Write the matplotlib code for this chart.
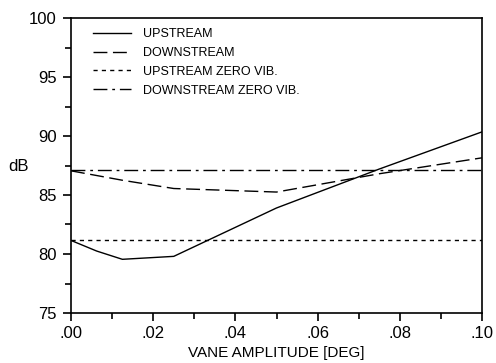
import matplotlib
matplotlib.use("Agg")
import matplotlib.pyplot as plt
from matplotlib.ticker import MultipleLocator, FuncFormatter

plt.rcParams['font.family'] = ['Liberation Sans', 'DejaVu Sans']

amp = [0.0, 0.00625, 0.0125, 0.025, 0.05, 0.075, 0.1]
upstream = [81.15, 80.25, 79.55, 79.8, 83.9, 87.2, 90.35]
amp_down = [0.0, 0.0125, 0.025, 0.05, 0.075, 0.1]
downstream = [87.05, 86.25, 85.55, 85.25, 86.8, 88.15]
up_zero = 81.2
down_zero = 87.1
labels = ['UPSTREAM', 'DOWNSTREAM', 'UPSTREAM ZERO VIB.', 'DOWNSTREAM ZERO VIB.']

fig = plt.figure(figsize=(4.96, 3.63), dpi=100)
ax = fig.add_axes([71/496, 1-313/363, (482-71)/496, (313-18)/363])

ax.plot(amp, upstream, color='black', lw=1.0, label=labels[0])
ax.plot(amp_down, downstream, color='black', lw=1.0, dashes=(10, 4), label=labels[1])
ax.plot([0, 0.1], [up_zero, up_zero], color='black', lw=1.0, dashes=(3, 3), label=labels[2])
ax.plot([0, 0.1], [down_zero, down_zero], color='black', lw=1.0, dashes=(10, 3.5, 2, 3.5), label=labels[3])

ax.set_xlim(0, 0.1)
ax.set_ylim(75, 100)
ax.xaxis.set_major_locator(MultipleLocator(0.02))
ax.xaxis.set_minor_locator(MultipleLocator(0.01))
ax.yaxis.set_major_locator(MultipleLocator(5))
ax.yaxis.set_minor_locator(MultipleLocator(2.5))
ax.xaxis.set_major_formatter(FuncFormatter(lambda v, p: ('%.2f' % v).lstrip('0') if v < 1 else '%.2f' % v))
ax.tick_params(which='both', direction='out', top=False, right=False, width=1.2, labelsize=12)
ax.tick_params(axis='y', which='both', pad=5)
ax.tick_params(which='major', length=5.5)
ax.tick_params(which='minor', length=4)
for s in ax.spines.values():
    s.set_linewidth(1.2)

ax.set_xlabel('VANE AMPLITUDE [DEG]', fontsize=11, labelpad=4)
ax.set_ylabel('dB', fontsize=12, rotation=0, va='center', ha='center')
ax.yaxis.set_label_coords(-0.128, 0.495)

leg = ax.legend(loc='upper left', frameon=False, fontsize=9, handlelength=3.0,
                handletextpad=1.0, labelspacing=0.55, borderaxespad=0.4,
                bbox_to_anchor=(0.03, 1.0))

fig.savefig('out.png', dpi=100)
